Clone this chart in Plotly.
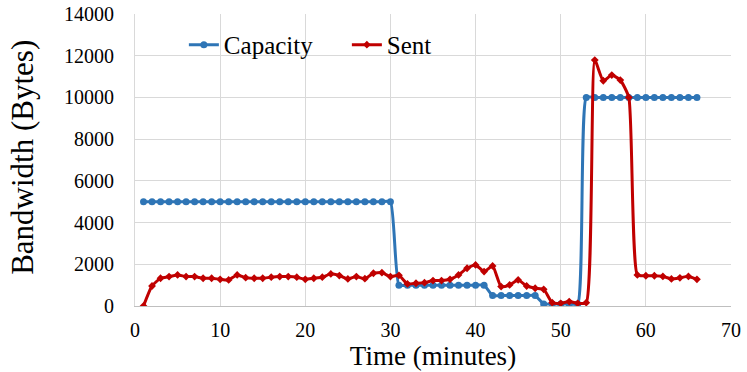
import plotly.graph_objects as go

# Time in minutes
minutes = list(range(1, 67))

capacity = (
    [5000] * 30
    + [1000] * 11
    + [500] * 6
    + [100] * 5
    + [10000] * 14
)

sent = [
    0, 960, 1330, 1410, 1490, 1410, 1410, 1330, 1330, 1280,
    1250, 1490, 1360, 1330, 1330, 1380, 1410, 1410, 1380, 1280,
    1330, 1380, 1540, 1460, 1300, 1410, 1310, 1570, 1600, 1410,
    1470, 1060, 1090, 1120, 1220, 1220, 1280, 1490, 1810, 1970,
    1650, 1920, 930, 1010, 1250, 960, 850, 800, 160, 130,
    210, 130, 160, 11790, 10800, 11070, 10830, 10000, 1490, 1450,
    1450, 1420, 1300, 1350, 1420, 1280,
]

FONT = "Times New Roman, Liberation Serif, serif"

fig = go.Figure()
fig.add_trace(go.Scatter(
    x=minutes, y=capacity, name="Capacity",
    mode="lines+markers",
    line=dict(color="#2E75B6", width=3, shape="spline", smoothing=0.5),
    marker=dict(symbol="circle", size=7, color="#2E75B6"),
))
fig.add_trace(go.Scatter(
    x=minutes, y=sent, name="Sent",
    mode="lines+markers",
    line=dict(color="#C00000", width=3, shape="spline", smoothing=0.5),
    marker=dict(symbol="diamond", size=6, color="#C00000"),
))

fig.update_layout(
    width=747,
    height=372,
    margin=dict(l=135, r=16, t=14, b=66, autoexpand=False),
    paper_bgcolor="white",
    plot_bgcolor="white",
    font=dict(family=FONT, size=20, color="black"),
    showlegend=True,
    legend=dict(
        orientation="h",
        x=0.082, y=0.894, xanchor="left", yanchor="middle",
        font=dict(family=FONT, size=25, color="black"),
        bgcolor="rgba(0,0,0,0)",
        entrywidth=118, entrywidthmode="pixels",
        itemwidth=30,
    ),
)
fig.update_xaxes(
    range=[0, 70], dtick=10, tick0=0, automargin=False,
    showgrid=True, gridcolor="#d9d9d9", gridwidth=1,
    showline=True, linecolor="#bfbfbf", linewidth=1,
    zeroline=False, ticks="outside", ticklen=6, tickcolor="rgba(0,0,0,0)",
    tickfont=dict(family=FONT, size=20, color="black"),
    title=dict(text="Time (minutes)", font=dict(family=FONT, size=27, color="black"), standoff=2),
)
fig.update_yaxes(
    range=[0, 14000], dtick=2000, tick0=0, tickformat="d", automargin=False,
    showgrid=True, gridcolor="#d9d9d9", gridwidth=1,
    showline=True, linecolor="#d9d9d9", linewidth=1,
    zeroline=False, ticks="outside", ticklen=16, tickcolor="rgba(0,0,0,0)",
    tickfont=dict(family=FONT, size=20, color="black"),
)

# y title placed as an annotation so its position can be pinned
fig.add_annotation(
    text="Bandwidth (Bytes)", textangle=-90,
    xref="paper", yref="paper", x=-0.19, y=0.51,
    xanchor="center", yanchor="middle", showarrow=False,
    font=dict(family=FONT, size=31, color="black"),
)

# drop the default 8px body margin so the figure fills the window
fig.write_html(
    "out.html",
    config={"displayModeBar": False},
    post_script="document.body.style.margin='0';",
)
